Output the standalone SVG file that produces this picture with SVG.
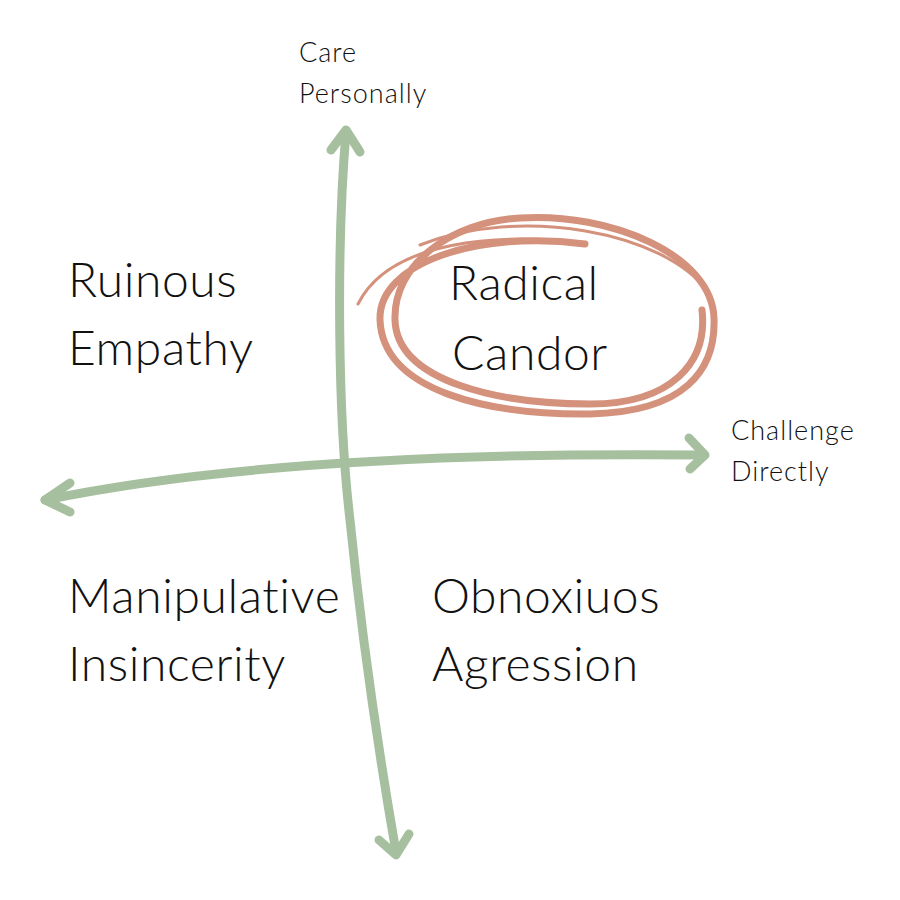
<svg xmlns="http://www.w3.org/2000/svg" width="900" height="900" viewBox="0 0 900 900">
<style>
.ax{fill:none;stroke:#a6c09f;stroke-width:9;stroke-linecap:round;stroke-linejoin:round}
.rc{fill:none;stroke:#d4917c;stroke-linecap:round}
.big{font-family:Lato,"Liberation Sans",sans-serif;font-weight:300;font-size:48px;letter-spacing:0.6px;fill:#111}
.sm{font-family:Lato,"Liberation Sans",sans-serif;font-weight:300;font-size:27px;letter-spacing:1px;fill:#111}
</style>
<rect width="900" height="900" fill="#fff"/>
<g id="connectors">
<path class="ax" d="M346,132 C336,250 338,420 350,520 C362,640 380,760 396,852"/>
<path class="ax" d="M331,150 L346,130 L360,152"/>
<path class="ax" d="M379,840 L396,855 L409,834"/>
<path class="ax" d="M45,500 C200,468 420,452 703,455"/>
<path class="ax" d="M689,438 L705,455 L690,469"/>
<path class="ax" d="M70,483 L45,500 L70,512"/>
</g>
<g id="circle">
<path class="rc" stroke-width="3" d="M358,304 C390,240 500,232 585,244"/>
<path class="rc" stroke-width="7" d="M585,244 C480,230 378,262 380,320 C383,392 490,415 590,414 C685,412 716,370 714,318 C712,255 610,212 520,218 C450,222 393,265 395,320 C397,382 500,404 590,404 C672,404 708,362 702,310"/>
<path class="rc" stroke-width="3" d="M420,245 C520,205 665,232 708,292"/>
</g>
<g id="n-care"><text class="sm" x="299" y="62">Care</text><text class="sm" x="299" y="103">Personally</text></g>
<g id="n-challenge"><text class="sm" x="731" y="440">Challenge</text><text class="sm" x="731" y="481">Directly</text></g>
<g id="n-ruinous"><text class="big" x="68" y="297">Ruinous</text><text class="big" x="68" y="365">Empathy</text></g>
<g id="n-radical"><text class="big" x="449" y="300">Radical</text><text class="big" x="452" y="370">Candor</text></g>
<g id="n-manip"><text class="big" x="68" y="613">Manipulative</text><text class="big" x="68" y="681">Insincerity</text></g>
<g id="n-obnox"><text class="big" x="432" y="613">Obnoxiuos</text><text class="big" x="432" y="681">Agression</text></g>
</svg>
